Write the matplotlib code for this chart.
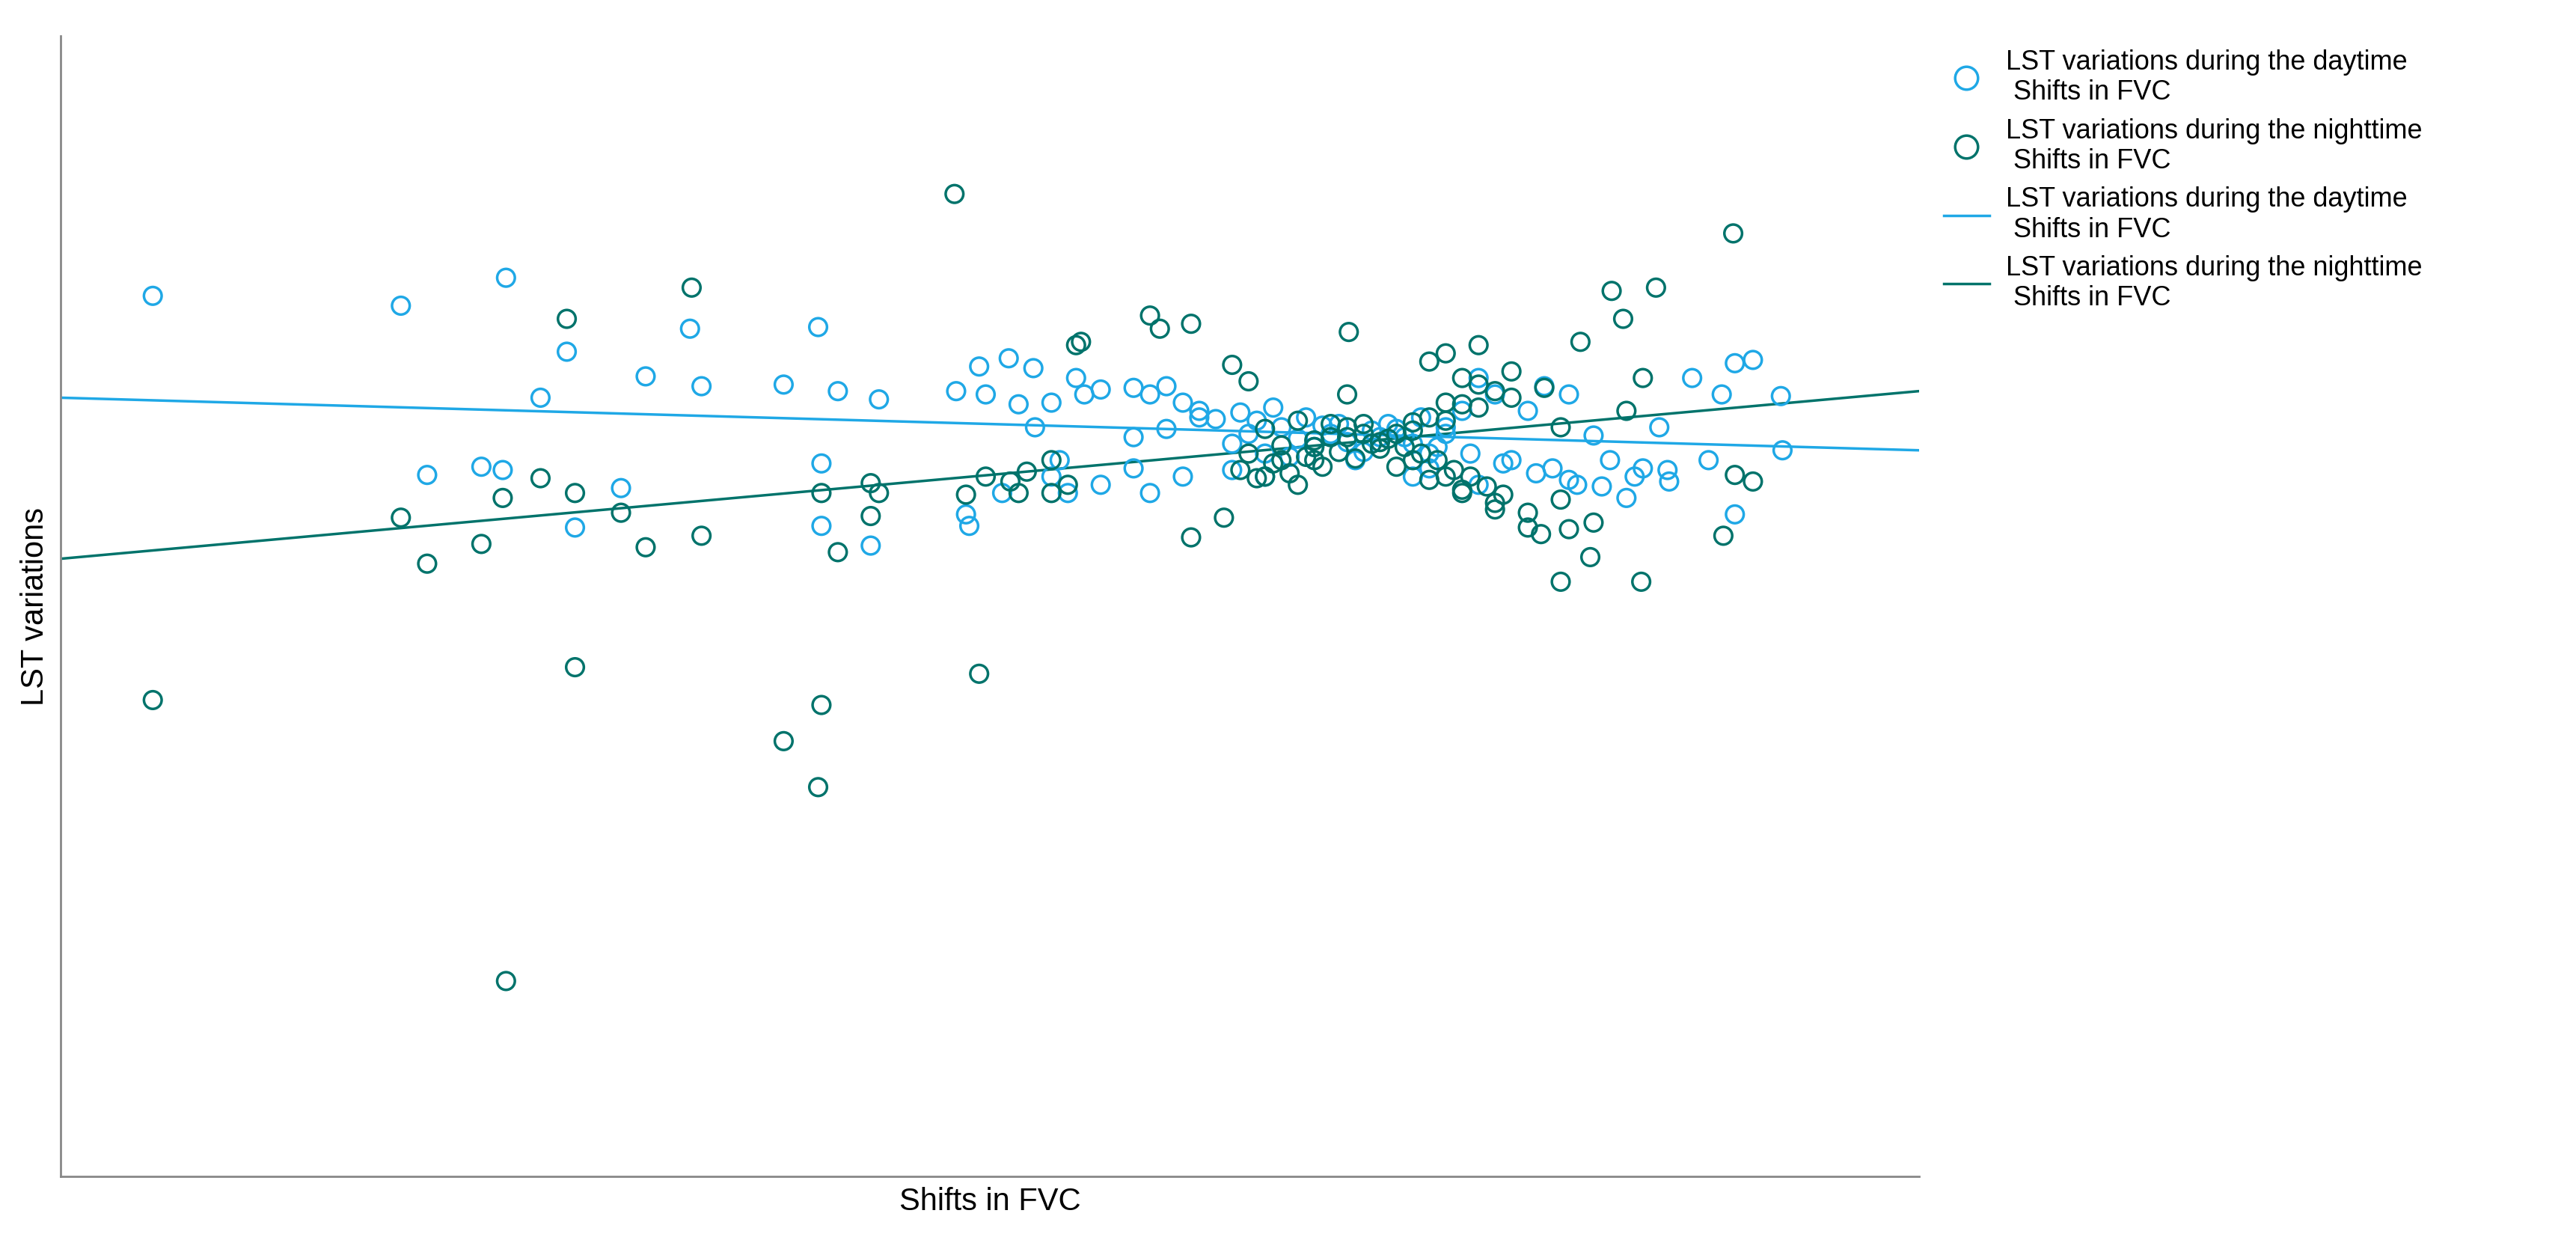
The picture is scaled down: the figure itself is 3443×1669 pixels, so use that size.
import numpy as np
import matplotlib.pyplot as plt
from matplotlib.lines import Line2D

plt.rcParams['font.family'] = ['Liberation Sans', 'DejaVu Sans']

# values (arbitrary units, the chart has no ticks)
day_x = [56, 207, 271, 461, 383, 308, 292, 356, 390, 440, 473, 498, 223, 256, 269, 341, 313, 463, 463, 493,
         551, 553, 545, 559, 577, 592, 563, 583, 593, 603, 618, 623, 633, 653, 663, 673, 683, 693, 703, 608,
         613, 633, 653, 663, 683, 1011, 1019, 1030, 1047, 1048, 1019, 979, 953, 963, 923, 943, 933, 918, 903,
         893, 908, 993, 973, 1003, 863, 873, 853, 843, 833, 823, 863, 883, 603, 573,
         713, 723, 733, 743, 753, 763, 773, 783, 793, 803, 813, 823, 833, 843, 728, 748, 768, 788, 808, 828,
         718, 738, 758, 778, 798, 818, 838, 858, 878, 898, 918, 938, 958, 978, 653, 673, 693, 713, 733]
day_y = [536, 530, 547, 517, 516, 502, 474, 487, 481, 482, 478, 473, 427, 432, 430, 419, 395, 434, 396, 384,
         403, 396, 478, 493, 498, 492, 476, 470, 456, 471, 486, 476, 479, 480, 476, 481, 471, 466, 461, 436,
         416, 421, 431, 416, 426, 476, 495, 497, 475, 442, 403, 423, 413, 431, 421, 436, 451, 476, 481,
         466, 431, 486, 456, 436, 486, 476, 466, 456, 431, 426, 421, 436, 426, 416,
         446, 452, 440, 456, 449, 444, 452, 447, 441, 450, 455, 446, 440, 452, 460, 438, 457, 436, 458, 462,
         465, 468, 462, 458, 454, 450, 444, 440, 434, 428, 424, 420, 426, 430, 450, 455, 462, 430, 426]

night_x = [544, 56, 271, 313, 440, 461, 463, 559, 384, 308, 207, 223, 256, 269, 292, 313, 341, 356, 390, 463,
           473, 493, 493, 498, 551, 563, 578, 588, 603, 618, 621, 663, 669, 688, 713, 723, 784, 688, 708, 733,
           753, 763, 783, 1018, 944, 971, 951, 925, 1012, 1019, 1030, 962, 913, 931, 901, 918, 893, 933, 873,
           853, 843, 823, 833, 843, 853, 863, 913, 953, 963, 603, 583, 613,
           718, 728, 738, 748, 758, 768, 778, 788, 798, 808, 818, 828, 838, 848, 858, 868, 878,
           733, 753, 773, 793, 813, 833, 853, 873, 743, 763, 783, 803, 823, 843, 863, 883,
           723, 743, 763, 783, 803, 823, 843, 863, 883, 903, 813, 833, 853, 873, 893, 913, 793, 773]
night_y = [598, 290, 119, 310, 265, 237, 287, 306, 541, 522, 401, 373, 385, 413, 425, 416, 404, 383, 390, 416,
           380, 422, 402, 416, 415, 426, 423, 429, 436, 506, 508, 524, 516, 519, 494, 484, 514, 389, 401, 426,
           421, 436, 476, 574, 539, 541, 522, 508, 390, 427, 423, 362, 362, 377, 391, 394, 395, 398, 406,
           416, 426, 436, 496, 501, 486, 506, 456, 466, 486, 416, 416, 421,
           430, 425, 434, 428, 438, 432, 441, 437, 446, 449, 444, 440, 436, 430, 426, 420, 415,
           455, 460, 450, 458, 452, 462, 470, 478, 445, 448, 456, 443, 459, 471, 482, 490,
           440, 436, 444, 450, 447, 454, 460, 468, 474, 480, 432, 424, 418, 410, 404, 412, 452, 458]

# fitted lines: value at left edge, value at right edge
day_fit = (474, 442)
night_fit = (376, 478)
x_max, y_max = 1131, 694

day_color = '#1fa8e6'
night_color = '#00736b'

fig = plt.figure(figsize=(34.43, 16.69), dpi=100)
ax = fig.add_axes([0.0236, 0.058, 0.7213, 0.913])

ax.scatter(day_x, day_y, s=290, facecolors='none', edgecolors=day_color, linewidths=2.5, zorder=3)
ax.scatter(night_x, night_y, s=290, facecolors='none', edgecolors=night_color, linewidths=2.5, zorder=3)
ax.plot([0, x_max], day_fit, color=day_color, lw=2.5)
ax.plot([0, x_max], night_fit, color=night_color, lw=2.5)

ax.set_xlim(0, x_max)
ax.set_ylim(0, y_max)
ax.set_xticks([])
ax.set_yticks([])
for s in ['top', 'right']:
    ax.spines[s].set_visible(False)
for s in ['left', 'bottom']:
    ax.spines[s].set_color('#888888')
    ax.spines[s].set_linewidth(2)
ax.set_xlabel('Shifts in FVC', fontsize=30, labelpad=10)
ax.set_ylabel('LST variations', fontsize=30, labelpad=10)

handles = [
    Line2D([], [], ls='none', marker='o', ms=22, mfc='none', mec=day_color, mew=2.5),
    Line2D([], [], ls='none', marker='o', ms=22, mfc='none', mec=night_color, mew=2.5),
    Line2D([], [], color=day_color, lw=2.5),
    Line2D([], [], color=night_color, lw=2.5),
]
labels = ['LST variations during the daytime\n Shifts in FVC',
          'LST variations during the nighttime\n Shifts in FVC',
          'LST variations during the daytime\n Shifts in FVC',
          'LST variations during the nighttime\n Shifts in FVC']
fig.legend(handles, labels, loc='upper left', bbox_to_anchor=(0.745, 0.98), frameon=False,
           fontsize=26, handlelength=1.7, labelspacing=0.45, handletextpad=0.6)

fig.savefig('out.png')
